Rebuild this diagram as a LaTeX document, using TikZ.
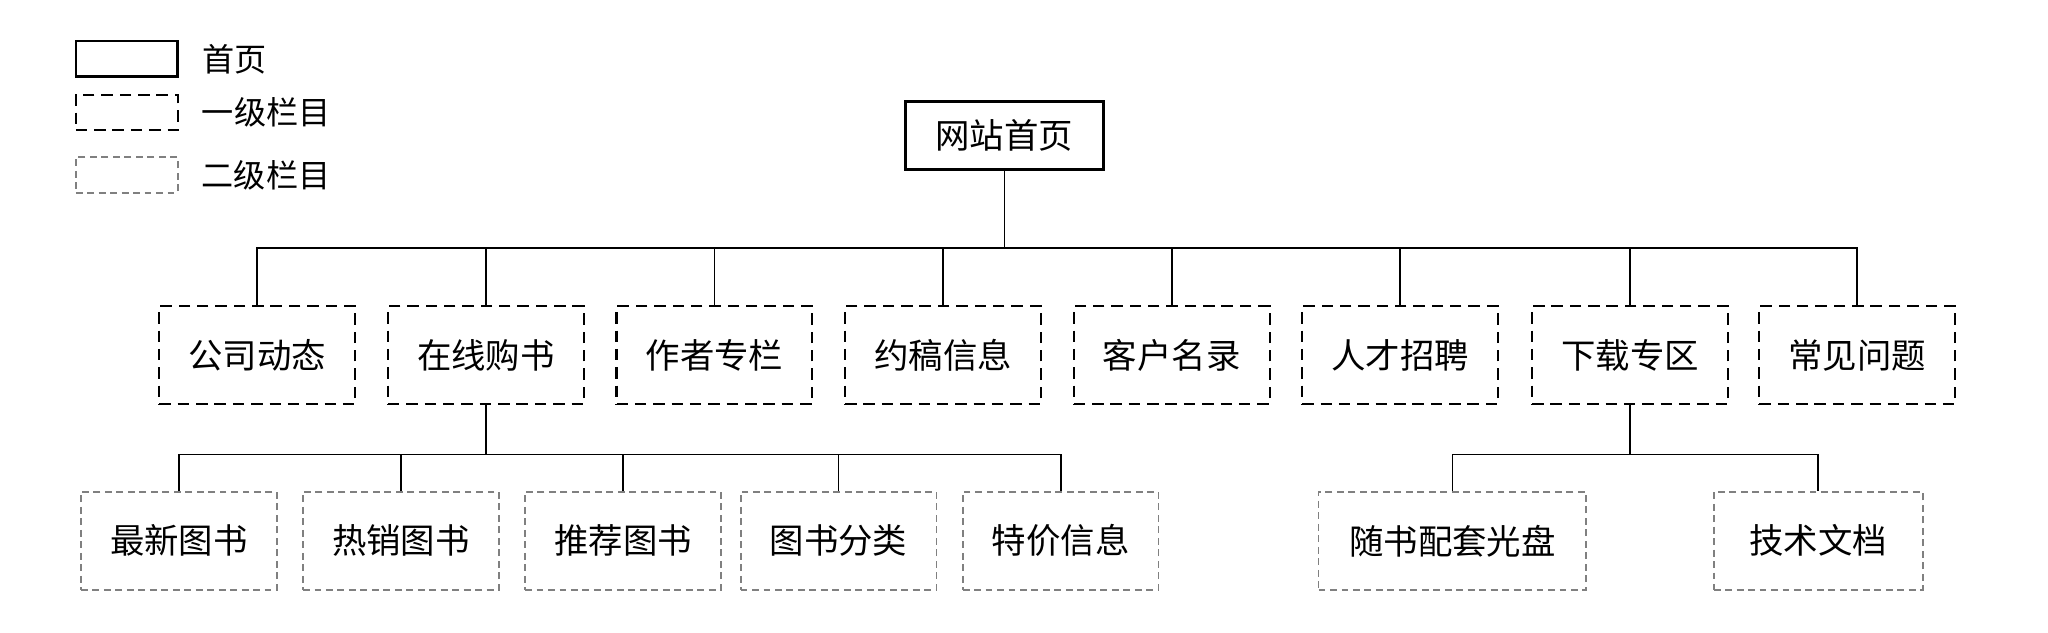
\documentclass[tikz,border=0pt]{standalone}
\usepackage{fontspec}
\setmainfont{Noto Sans CJK SC}
\usetikzlibrary{positioning}

\tikzset{
  home/.style={draw, line width=1.4pt, minimum width=3.04cm, minimum height=1.04cm, font=\fontsize{15}{18}\selectfont},
  lvlone/.style={draw, dash pattern=on 5pt off 3pt, line width=0.9pt, minimum width=3.0cm, minimum height=1.5cm, font=\fontsize{15}{18}\selectfont},
  lvltwo/.style={draw, densely dashed, gray, text=black, line width=0.8pt, minimum width=3.0cm, minimum height=1.5cm, font=\fontsize{15}{18}\selectfont},
  keybox/.style={minimum width=1.56cm, minimum height=0.54cm, inner sep=0pt},
  keytext/.style={right=0.35cm of #1, font=\fontsize{14}{16}\selectfont, inner sep=0pt},
  link/.style={line width=0.8pt}
}

\begin{document}
\begin{tikzpicture}[x=0.02cm, y=-0.02cm]
\useasboundingbox (0,0) rectangle (1568,484);

% legend
\node[keybox, draw, line width=1pt] (k1) at (97,45) {};
\node[keytext=k1] {首页};
\node[keybox, draw, dash pattern=on 5pt off 3pt, line width=0.9pt] (k2) at (97,86) {};
\node[keytext=k2] {一级栏目};
\node[keybox, draw, densely dashed, gray, line width=0.8pt] (k3) at (97,134) {};
\node[keytext=k3, text=black] {二级栏目};

% root
\node[home] (root) at (769,104) {网站首页};
\coordinate (trunk) at (769,190);
\draw[link] (root) -- (trunk);

% first level
\foreach \x/\name/\txt in {197/gs/公司动态, 372/zx/在线购书, 547/zz/作者专栏, 722/yg/约稿信息,
  897/kh/客户名录, 1072/rc/人才招聘, 1248/xz/下载专区, 1422/cj/常见问题} {
  \node[lvlone] (\name) at (\x,272) {\txt};
  \draw[link] (\name.north) |- (trunk);
}

% second level under 在线购书
\coordinate (zxbar) at (372,348);
\draw[link] (zx) -- (zxbar);
\foreach \x/\name/\txt in {137/zx1/最新图书, 307/zx2/热销图书, 477/zx3/推荐图书, 642/zx4/图书分类, 812/zx5/特价信息} {
  \node[lvltwo] (\name) at (\x,414) {\txt};
  \draw[link] (\name.north) |- (zxbar);
}

% second level under 下载专区
\coordinate (xzbar) at (1248,348);
\draw[link] (xz) -- (xzbar);
\node[lvltwo, minimum width=4.1cm] (xz1) at (1112,414) {随书配套光盘};
\node[lvltwo, minimum width=3.2cm] (xz2) at (1392,414) {技术文档};
\draw[link] (xz1.north) |- (xzbar);
\draw[link] (xz2.north) |- (xzbar);
\end{tikzpicture}
\end{document}
